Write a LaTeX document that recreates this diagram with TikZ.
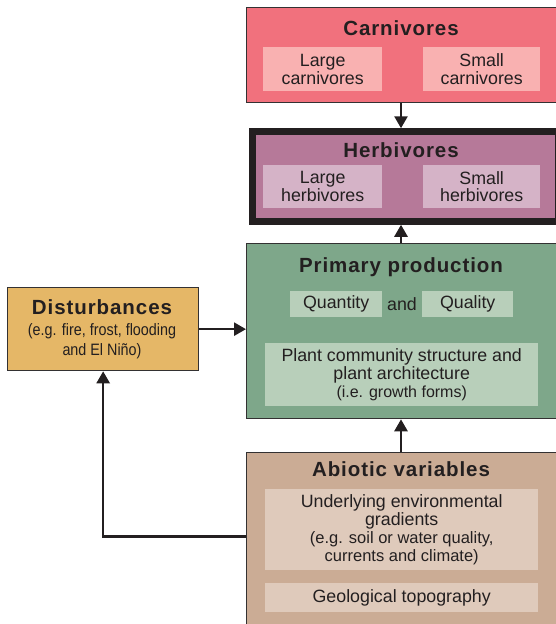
\documentclass[tikz,border=0pt]{standalone}
\usepackage{fontspec}
\setmainfont{Liberation Sans}
\newfontfamily\titlefont[LetterSpace=4.5]{Liberation Sans}
\newfontfamily\narrowfont[FakeStretch=0.87]{Liberation Sans}
\usetikzlibrary{arrows.meta}
\definecolor{txt}{HTML}{231F20}
\definecolor{edge}{HTML}{333132}
\definecolor{carnbg}{HTML}{F1717D}
\definecolor{carnsub}{HTML}{F9B1B1}
\definecolor{herbbg}{HTML}{B67999}
\definecolor{herbsub}{HTML}{D5B3C7}
\definecolor{primbg}{HTML}{7EA78A}
\definecolor{primsub}{HTML}{B8CFBA}
\definecolor{abiobg}{HTML}{CBAC95}
\definecolor{abiosub}{HTML}{DFCABB}
\definecolor{distbg}{HTML}{E5B767}
\begin{document}
\begin{tikzpicture}[x=1pt,y=-1pt,
  box/.style={draw=edge, line width=1.3pt, inner sep=0pt, anchor=north west},
  sub/.style={inner sep=0pt, anchor=north west, align=center, text=txt,
    font=\fontsize{17.8}{17.8}\selectfont},
  ttl/.style={font=\titlefont\bfseries\fontsize{20.5}{22}\selectfont, text=txt, inner sep=0pt},
  arr/.style={line width=2.6pt, draw=txt, -{Triangle[width=13pt,length=12pt]}}]
\useasboundingbox (0,0) rectangle (555,624);
% Carnivores
\node[box, fill=carnbg, minimum width=320pt, minimum height=95pt] (carn) at (246,7) {};
\node[ttl] (carnt) at (401,28) {Carnivores};
\node[sub, fill=carnsub, minimum width=119pt, minimum height=44pt] (lc) at (263,47) {Large\\carnivores};
\node[sub, fill=carnsub, minimum width=117pt, minimum height=44pt] (sc) at (423,47) {Small\\carnivores};
% Herbivores
\node[box, draw=txt, line width=6.5pt, fill=herbbg, minimum width=305.5pt, minimum height=90pt] (herb) at (249.25,128.25) {};
\node[ttl] (herbt) at (401,150) {Herbivores};
\node[sub, fill=herbsub, minimum width=119pt, minimum height=43pt] (lh) at (263,165) {Large\\herbivores};
\node[sub, fill=herbsub, minimum width=117pt, minimum height=43pt] (sh) at (423,165) {Small\\herbivores};
% Primary production
\node[box, fill=primbg, minimum width=320pt, minimum height=175pt] (prim) at (246,243) {};
\node[ttl] (primt) at (401,267) {Primary production};
\node[sub, fill=primsub, minimum width=92pt, minimum height=26pt] (qn) at (290,291) {Quantity};
\node[text=txt, font=\fontsize{17.8}{17.8}\selectfont, inner sep=0pt] (and) at (402,304) {and};
\node[sub, fill=primsub, minimum width=91pt, minimum height=26pt] (ql) at (422,291) {Quality};
\node[sub, fill=primsub, minimum width=273pt, minimum height=63pt] (plant) at (265,343)
  {Plant community structure and\\plant architecture\\{\fontsize{16}{17}\selectfont(i.e. growth forms)}};
% Abiotic variables
\node[box, fill=abiobg, minimum width=320pt, minimum height=180pt] (abio) at (246,452) {};
\node[ttl] (abiot) at (401,469) {Abiotic variables};
\node[sub, fill=abiosub, minimum width=273pt, minimum height=81pt] (grad) at (265,489)
  {Underlying environmental\\gradients\\{\fontsize{16.5}{18}\selectfont(e.g. soil or water quality,}\\{\fontsize{16.5}{18}\selectfont currents and climate)}};
\node[sub, fill=abiosub, minimum width=273pt, minimum height=29pt] (geo) at (265,583) {Geological topography};
% Disturbances
\node[box, fill=distbg, minimum width=191pt, minimum height=83pt] (dist) at (7,287) {};
\node[ttl] (distt) at (102,307) {Disturbances};
\node[text=txt, align=center, inner sep=0pt, font=\narrowfont\fontsize{16.5}{19.5}\selectfont] (distx) at (102,341)
  {(e.g. fire, frost, flooding\\and El Niño)};
% Connectors
\coordinate (c1) at (401,0);
\draw[arr] (carn.south -| c1) -- (herb.north -| c1);
\draw[arr] (prim.north -| c1) -- (herb.south -| c1);
\draw[arr] (abio.north -| c1) -- (prim.south -| c1);
\draw[arr] (dist.east) -- (dist.east -| prim.west);
\draw[arr] ([yshift=6pt]abio.west) -| (dist.south);
\end{tikzpicture}
\end{document}
